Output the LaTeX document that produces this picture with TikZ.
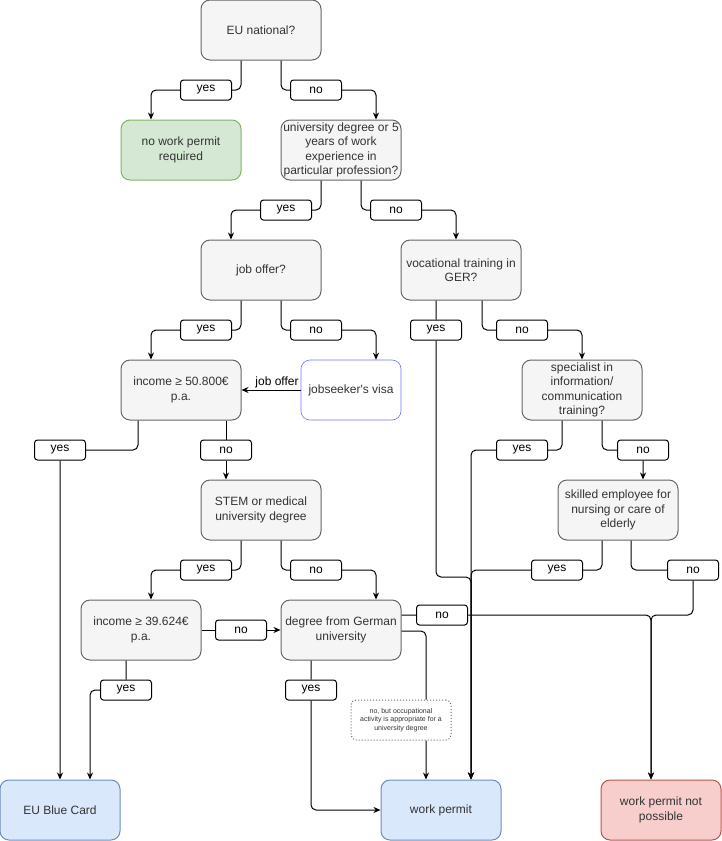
\documentclass[tikz,border=0pt]{standalone}
\usepackage{fontspec}
\setmainfont{Liberation Sans}
\usetikzlibrary{arrows.meta}

\definecolor{grigio}{HTML}{F5F5F5}
\definecolor{bordo}{HTML}{666666}
\definecolor{testo}{HTML}{333333}
\definecolor{verde}{HTML}{D5E8D4}
\definecolor{bordoverde}{HTML}{82B366}
\definecolor{azzurro}{HTML}{DAE8FC}
\definecolor{bordoazzurro}{HTML}{6C8EBF}
\definecolor{rosso}{HTML}{F8CECC}
\definecolor{bordorosso}{HTML}{B85450}
\definecolor{blu}{HTML}{7070FF}

\begin{document}
\begin{tikzpicture}[x=1pt, y=-1pt, line width=1pt, font=\fontsize{12}{14.4}\selectfont]
	% Stili per domande, esiti, risposte e frecce
	\tikzset{domanda/.style={draw=bordo, fill=grigio, text=testo, rounded corners=9pt, minimum width=120pt, minimum height=60pt, inner sep=0pt, align=center}}
	\tikzset{esito/.style={domanda, fill=#1, draw=bordo#1}}
	\tikzset{risposta/.style={draw=black, fill=white, rounded corners=3pt, minimum width=51pt, minimum height=20pt, inner sep=0pt}}
	\tikzset{freccia/.style={-{Stealth[length=7pt, width=6pt]}, rounded corners=5pt}}
	\useasboundingbox (0,0) rectangle (721,841);

	% Domande
	\node[domanda] (eu) at (261,30) {EU national?};
	\node[domanda] (univ) at (341,150) {university degree or 5\\years of work\\experience in\\particular profession?};
	\node[domanda] (job) at (261,270) {job offer?};
	\node[domanda] (voc) at (461,270) {vocational training in\\GER?};
	\node[domanda] (inc50) at (181,390) {income ≥ 50.800€\\p.a.};
	\node[domanda, draw=blu, line width=0.6pt, fill=white, minimum width=100pt] (visa) at (351,390) {jobseeker\textquotesingle s visa};
	\node[domanda] (spec) at (582,390) {specialist in\\information/\\communication\\training?};
	\node[domanda] (stem) at (261,510) {STEM or medical\\university degree};
	\node[domanda] (skill) at (618,510) {skilled employee for\\nursing or care of\\elderly};
	\node[domanda] (inc39) at (141,630) {income ≥ 39.624€\\p.a.};
	\node[domanda] (deg) at (341,630) {degree from German\\university};
	\node[draw=bordo, dotted, fill=white, text=testo, rounded corners=5pt, minimum width=100pt, minimum height=40pt, inner sep=0pt, align=center, font=\fontsize{7}{8.5}\selectfont] (note) at (401,720) {no, but occupational\\activity is appropriate for a\\university degree};

	% Esiti
	\node[esito=verde] (nwp) at (181,150) {no work permit\\required};
	\node[esito=azzurro] (blue) at (60,810) {EU Blue Card};
	\node[esito=azzurro] (wp) at (441,810) {work permit};
	\node[esito=rosso] (wnp) at (661,810) {work permit not\\possible};

	% Risposte sugli archi
	\node[risposta] (euyes) at (206,90) {yes};
	\node[risposta] (euno) at (316,90) {no};
	\node[risposta] (univyes) at (286,210) {yes};
	\node[risposta] (univno) at (396,210) {no};
	\node[risposta] (jobyes) at (206,330) {yes};
	\node[risposta] (jobno) at (316,330) {no};
	\node[risposta] (vocyes) at (436,330) {yes};
	\node[risposta] (vocno) at (522,330) {no};
	\node[risposta] (inc50yes) at (60,450) {yes};
	\node[risposta] (inc50no) at (226,450) {no};
	\node[risposta] (specyes) at (522,450) {yes};
	\node[risposta] (specno) at (643,450) {no};
	\node[risposta] (stemyes) at (206,570) {yes};
	\node[risposta] (stemno) at (316,570) {no};
	\node[risposta] (skillyes) at (557,570) {yes};
	\node[risposta] (skillno) at (693,570) {no};
	\node[risposta] (inc39no) at (241,630) {no};
	\node[risposta] (degno) at (442,615) {no};
	\node[risposta] (inc39yes) at (126,690) {yes};
	\node[risposta] (degyes) at (311,690) {yes};

	% Punti in cui le linee si uniscono
	\coordinate (gwp) at (471,577);
	\coordinate (gwnp) at (651,615);

	% Archi
	\draw[freccia] ([xshift=-20]eu.south) |- (euyes.east) (euyes.west) -| ([xshift=-30]nwp.north);
	\draw[freccia] ([xshift=20]eu.south) |- (euno.west) (euno.east) -| ([xshift=35]univ.north);
	\draw[freccia] ([xshift=-20]univ.south) |- (univyes.east) (univyes.west) -| ([xshift=-30]job.north);
	\draw[freccia] ([xshift=20]univ.south) |- (univno.west) (univno.east) -| ([xshift=-5]voc.north);
	\draw[freccia] ([xshift=-20]job.south) |- (jobyes.east) (jobyes.west) -| ([xshift=-30]inc50.north);
	\draw[freccia] ([xshift=20]job.south) |- (jobno.west) (jobno.east) -| ([xshift=25]visa.north);
	\draw[freccia] (visa.west) -- node[pos=0.4, above=2pt, inner sep=0pt] {job offer} (inc50.east);
	\draw[freccia] ([xshift=-25]voc.south) -- (vocyes.north) (vocyes.south) |- (gwp) -- ([xshift=30]wp.north);
	\draw[freccia] ([xshift=21]voc.south) |- (vocno.west) (vocno.east) -| (spec.north);
	\draw[freccia] ([xshift=-43]inc50.south) |- (inc50yes.east) (inc50yes.south) -- (blue.north);
	\draw[freccia] ([xshift=45]inc50.south) -- (inc50no.north) (inc50no.south) -- ([xshift=-35]stem.north);
	\draw[freccia] ([xshift=-20]spec.south) |- (specyes.east) (specyes.west) -| ([xshift=30]wp.north);
	\draw[freccia] ([xshift=20]spec.south) |- (specno.west) (specno.south) -- ([xshift=25]skill.north);
	\draw[freccia] ([xshift=-20]stem.south) |- (stemyes.east) (stemyes.west) -| ([xshift=10]inc39.north);
	\draw[freccia] ([xshift=20]stem.south) |- (stemno.west) (stemno.east) -| ([xshift=35]deg.north);
	\draw[freccia] ([xshift=-16]skill.south) |- (skillyes.east) (skillyes.west) -| ([xshift=30]wp.north);
	\draw[freccia] ([xshift=13]skill.south) |- (skillno.west) (skillno.south) |- (gwnp) -- ([xshift=-10]wnp.north);
	\draw[freccia] (inc39.east) -- (inc39no.west) (inc39no.east) -- (deg.west);
	\draw[freccia] ([xshift=-15]inc39.south) -- (inc39yes.north) (inc39yes.west) -| ([xshift=30]blue.north);
	\draw[freccia] ([yshift=15]deg.east) -- (degno.west) (degno.east) -| ([xshift=-10]wnp.north);
	\draw[freccia] ([xshift=-30]deg.south) -- (degyes.north) (degyes.south) |- (wp.west);
	\draw[freccia] ([yshift=-1]deg.east) -| ([xshift=25]note.north) ([xshift=25]note.south) -- ([xshift=-15]wp.north);
\end{tikzpicture}
\end{document}
